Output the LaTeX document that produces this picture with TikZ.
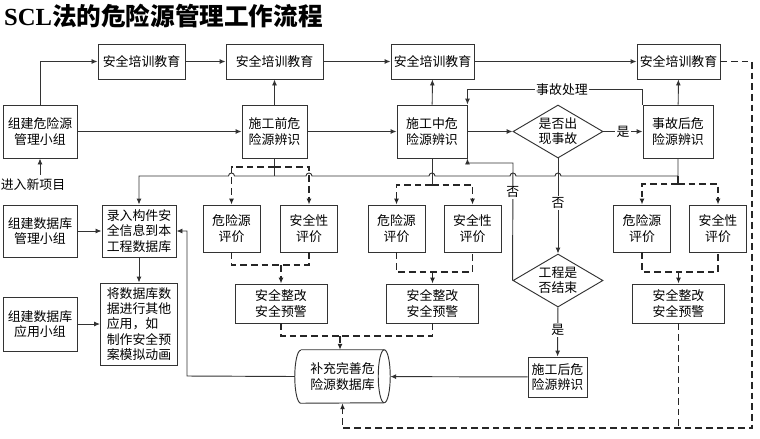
\documentclass[tikz,border=0pt]{standalone}
\usepackage{fontspec}
\setmainfont{Noto Sans CJK SC}
\newfontfamily\titlelatin{Liberation Serif}
\usetikzlibrary{positioning, arrows.meta, calc, shapes.geometric}

% bump of the long horizontal line where another line crosses it
\newcommand\hopover[1]{-- ([xshift=0.09cm]#1 |- bus) arc[start angle=0, end angle=180, radius=0.09cm]}

\begin{document}
\begin{tikzpicture}[
    x=0.03cm, y=-0.03cm,
    every node/.style={font=\fontsize{11}{13}\selectfont},
    box/.style={rectangle, draw=black!80, line width=0.8pt, align=center, inner sep=0pt},
    decision/.style={diamond, draw=black!80, line width=0.8pt, align=center, inner sep=0pt, aspect=1.7, minimum width=2.7cm, minimum height=1.59cm},
    store/.style={rectangle, align=center, inner sep=0pt, minimum width=2.85cm, minimum height=1.59cm},
    outline/.style={line width=0.8pt, draw=black!80},
    arrow/.style={-{Latex[length=1.8mm, width=1.5mm]}, line width=0.8pt, draw=black!80},
    dashedarrow/.style={dash pattern=on 2mm off 1.2mm, -{Latex[length=1.8mm, width=1.5mm]}, line width=1pt, draw=black!85},
    dashedline/.style={dash pattern=on 2mm off 1.2mm, line width=1pt, draw=black!85},
    lbl/.style={fill=white, inner sep=1pt}
]
\useasboundingbox (0,0) rectangle (760,438);

% Title
\node[anchor=west, font=\fontsize{21}{24}\selectfont\bfseries] (title) at (0,16) {{\titlelatin SCL}法的危险源管理工作流程};

% Left column
\node[box, minimum width=2.22cm, minimum height=1.59cm] (grp) at (40,131.5) {组建危险源\\管理小组};
\node (newproj) at (33,185) {进入新项目};
\node[box, minimum width=2.22cm, minimum height=1.56cm] (dbmgr) at (40,231) {组建数据库\\管理小组};
\node[box, minimum width=2.22cm, minimum height=1.62cm] (dbuse) at (40,324) {组建数据库\\应用小组};

% Database boxes
\node[box, minimum width=2.22cm, minimum height=1.56cm] (input) at (139,231) {录入构件安\\全信息到本\\工程数据库};
\node[box, minimum width=2.31cm, minimum height=2.46cm, align=left] (apply) at (139,324) {将数据库数\\据进行其他\\应用，如\\制作安全预\\案模拟动画};

% Training row
\node[box, minimum width=2.61cm, minimum height=1.05cm] (edu1) at (141.5,61.5) {安全培训教育};
\node[box, minimum width=2.91cm, minimum height=1.05cm] (edu2) at (274.5,61.5) {安全培训教育};
\node[box, minimum width=2.49cm, minimum height=1.05cm] (edu3) at (432.5,61.5) {安全培训教育};
\node[box, minimum width=2.49cm, minimum height=1.05cm] (edu4) at (678.5,61.5) {安全培训教育};

% Identification row
\node[box, minimum width=1.95cm, minimum height=1.59cm] (pre) at (274.5,131.5) {施工前危\\险源辨识};
\node[box, minimum width=2.1cm, minimum height=1.59cm] (mid) at (432,131.5) {施工中危\\险源辨识};
\node[decision] (acc) at (558,131.5) {是否出\\现事故};
\node[box, minimum width=2.1cm, minimum height=1.59cm] (post) at (678,131.5) {事故后危\\险源辨识};

% Evaluation groups
\node[box, minimum width=1.71cm, minimum height=1.41cm] (hzA) at (231.5,228.5) {危险源\\评价};
\node[box, minimum width=1.71cm, minimum height=1.41cm] (sfA) at (309,228.5) {安全性\\评价};
\node[box, minimum width=2.76cm, minimum height=1.17cm] (fixA) at (281,303.5) {安全整改\\安全预警};

\node[box, minimum width=1.71cm, minimum height=1.41cm] (hzB) at (396.5,228.5) {危险源\\评价};
\node[box, minimum width=1.71cm, minimum height=1.41cm] (sfB) at (472.5,228.5) {安全性\\评价};
\node[box, minimum width=2.76cm, minimum height=1.17cm] (fixB) at (432.5,303.5) {安全整改\\安全预警};

\node[box, minimum width=1.71cm, minimum height=1.41cm] (hzC) at (642,228.5) {危险源\\评价};
\node[box, minimum width=1.71cm, minimum height=1.41cm] (sfC) at (718,228.5) {安全性\\评价};
\node[box, minimum width=2.76cm, minimum height=1.17cm] (fixC) at (678.5,303.5) {安全整改\\安全预警};

% End of project
\node[decision] (end) at (558,280.5) {工程是\\否结束};
\node[box, minimum width=1.77cm, minimum height=1.2cm] (after) at (557.5,377) {施工后危\\险源辨识};
\node[store] (db) at (342.5,376.5) {补充完善危\\险源数据库};
% lying drum round the database text
\draw[outline] ([xshift=0.18cm]db.north west) -- ([xshift=-0.18cm]db.north east)
    arc[start angle=90, end angle=-90, x radius=0.18cm, y radius=0.795cm]
    -- ([xshift=0.18cm]db.south west)
    arc[start angle=270, end angle=90, x radius=0.18cm, y radius=0.795cm];
\draw[outline] ([xshift=-0.18cm]db.north east) arc[start angle=90, end angle=270, x radius=0.18cm, y radius=0.795cm];

% Helper points
\coordinate (bus) at (0,176);
\coordinate (preSplit) at (274.5,167);
\coordinate (midSplit) at (432,185);
\coordinate (postSplit) at (678,184);
\coordinate (jA) at (281,265);
\coordinate (jB) at (432.5,272);
\coordinate (jC) at (678.5,272);
\coordinate (dbIn) at (340,336);
\coordinate (rim) at (752,428);
\coordinate (back) at (187,376);
\coordinate (noTurn) at (513,163);

% Solid connectors
\draw[arrow] (grp.north) |- (edu1.west);
\draw[arrow] (edu1) -- (edu2);
\draw[arrow] (edu2) -- (edu3);
\draw[arrow] (edu3) -- (edu4);
\draw[arrow] (grp) -- (pre);
\draw[arrow] (pre) -- (mid);
\draw[arrow] (pre) -- (edu2);
\draw[arrow] (mid) -- (edu3);
\draw[arrow] (post) -- (edu4);
\draw[arrow] (mid) -- (acc);
\draw[arrow] (acc) -- node[lbl] {是} (post);
\draw[arrow] (grp.south |- newproj.north) -- (grp.south);
\draw[arrow] (post.north west) -- ++(0,-15) -| node[lbl, pos=0.23] {事故处理} (mid.north east);
\draw[arrow] (end.west) -- node[lbl, pos=0.75] {否} (noTurn) -| (mid.south east);
\draw[arrow] (acc) -- node[lbl, pos=0.47] {否} (end);
\draw[arrow] (end) -- node[lbl, pos=0.46] {是} (after);
\draw[arrow] (after) -- (db);
\draw[arrow] (db.west) -- (back) |- (input.east);
\draw[arrow] (dbmgr) -- (input);
\draw[arrow] (dbuse) -- (apply);
\draw[arrow] (input) -- (apply);

% Long line to the database input
\draw[arrow] (post.south) -- (post.south |- bus)
    \hopover{acc.south} \hopover{noTurn} \hopover{mid.south}
    \hopover{sfA.north} \hopover{hzA.north}
    -- (input.north |- bus) -- (input.north);
\draw[outline] (pre.south) -- (pre.south |- bus);
\draw[outline] (mid.south) -- (midSplit);

% Dashed branches to evaluations
\draw[dashedarrow] (preSplit) -| (hzA.north);
\draw[dashedarrow] (preSplit) -| (sfA.north);
\draw[dashedarrow] (midSplit) -| (hzB.north);
\draw[dashedarrow] (midSplit) -| (sfB.north);
\draw[dashedline] (post.south |- bus) -- (postSplit);
\draw[dashedarrow] (postSplit) -| (hzC.north);
\draw[dashedarrow] (postSplit) -| (sfC.north);

\draw[dashedline] (hzA.south) |- (jA) -| (sfA.south);
\draw[dashedarrow] (jA) -- (fixA);
\draw[dashedline] (hzB.south) |- (jB) -| (sfB.south);
\draw[dashedarrow] (jB) -- (fixB);
\draw[dashedline] (hzC.south) |- (jC) -| (sfC.south);
\draw[dashedarrow] (jC) -- (fixC);

% Dashed returns to the database
\draw[dashedline] (fixA.south) |- (dbIn);
\draw[dashedline] (fixB.south) |- (dbIn);
\draw[dashedarrow] (dbIn) -- (dbIn |- db.north);
\draw[dashedarrow] (edu4.east) -| (rim) -| (db.south);
\draw[dashedline] (fixC.south) -- (fixC.south |- rim);

\end{tikzpicture}
\end{document}
